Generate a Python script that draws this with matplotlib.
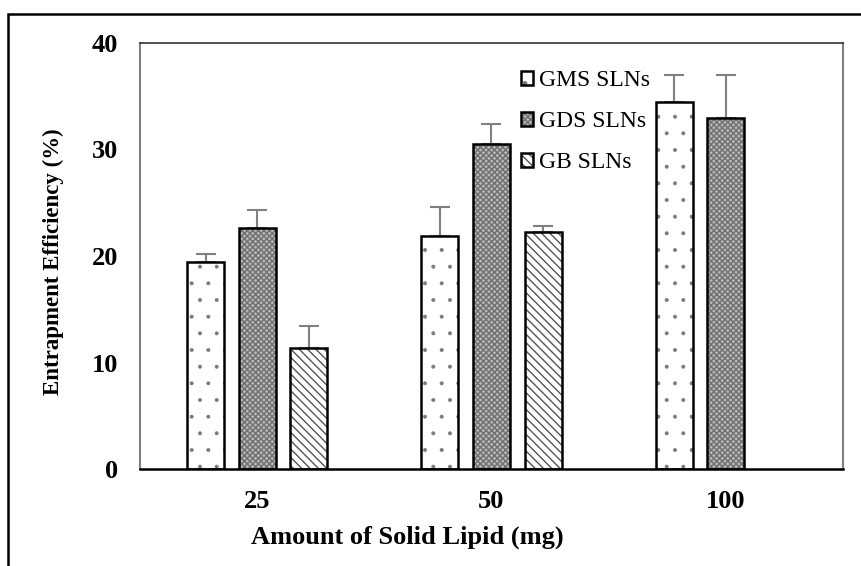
import numpy as np
import matplotlib.pyplot as plt
from matplotlib.patches import Rectangle

plt.rcParams['font.family'] = 'Liberation Serif'

# data
categories = ['25', '50', '100']
series = ['GMS SLNs', 'GDS SLNs', 'GB SLNs']
gms = [19.4, 21.9, 34.5]
gds = [22.6, 30.5, 33.0]
gb = [11.4, 22.3, 0]
gms_err = [0.8, 2.7, 2.5]
gds_err = [1.7, 1.9, 4.0]
gb_err = [2.0, 0.5, 0]

values = [gms, gds, gb]
errors = [gms_err, gds_err, gb_err]
face = ['white', '#b8b8b8', 'white']
hatches = ['.', 'xxxxxx', '\\\\\\\\']
hatch_col = ['#7a7a7a', '#707070', '#555555']
hatch_lw = [0.4, 1.0, 1.0]

fig = plt.figure(figsize=(8.61, 5.66), dpi=100)
# outer frame
fig.patches.append(Rectangle((8/861, -0.05), 1.1, 1 - 14/566 + 0.05, transform=fig.transFigure,
                             fill=False, edgecolor='black', linewidth=1.8))
ax = fig.add_axes([140/861, 97/566, 703/861, 426/566])

x = np.arange(len(categories))
w = 0.158
off = 0.22
handles = []
for i in range(3):
    pos = x + (i - 1) * off
    v = np.array(values[i])
    e = np.array(errors[i])
    keep = v > 0
    with plt.rc_context({'hatch.linewidth': hatch_lw[i]}):
        hb = ax.bar(pos[keep], v[keep], w, color=face[i], hatch=hatches[i],
                    edgecolor=hatch_col[i], linewidth=0, zorder=2)
    ob = ax.bar(pos[keep], v[keep], w, fill=False, edgecolor='black',
                linewidth=1.8, zorder=3)
    ax.errorbar(pos[keep], v[keep], yerr=[np.zeros(keep.sum()), e[keep]],
                fmt='none', ecolor='#808080', elinewidth=1.5, capsize=7,
                capthick=1.5, zorder=1)
    handles.append((hb.patches[0], ob.patches[0]))

ax.set_xlim(-0.5, 2.5)
ax.set_ylim(0, 40)
ax.set_yticks([0, 10, 20, 30, 40])
ax.set_xticks(x)
ax.set_xticklabels(categories)
ax.tick_params(length=0, labelsize=19)
ax.tick_params(axis='y', pad=16)
ax.tick_params(axis='x', pad=15)
for lab in ax.get_xticklabels() + ax.get_yticklabels():
    lab.set_fontweight('bold')

for s in ['left', 'right']:
    ax.spines[s].set_color('#808080')
    ax.spines[s].set_linewidth(1.5)
ax.spines['top'].set_color('#333333')
ax.spines['top'].set_linewidth(1.2)
ax.spines['bottom'].set_color('black')
ax.spines['bottom'].set_linewidth(1.8)

ax.set_xlabel('Amount of Solid Lipid (mg)', fontsize=19, fontweight='bold')
ax.xaxis.set_label_coords(0.38, -0.133)
ax.set_ylabel('Entrapment Efficiency (%)', fontsize=16.5, fontweight='bold')
ax.yaxis.set_label_coords(-0.108, 0.486)

ax.legend(handles, series, loc='upper left', bbox_to_anchor=(0.542, 0.936),
          frameon=False, fontsize=17, handlelength=0.5, handleheight=0.5,
          handletextpad=0.25, labelspacing=0.85, borderaxespad=0, borderpad=0)

fig.savefig('out.png', dpi=100)
